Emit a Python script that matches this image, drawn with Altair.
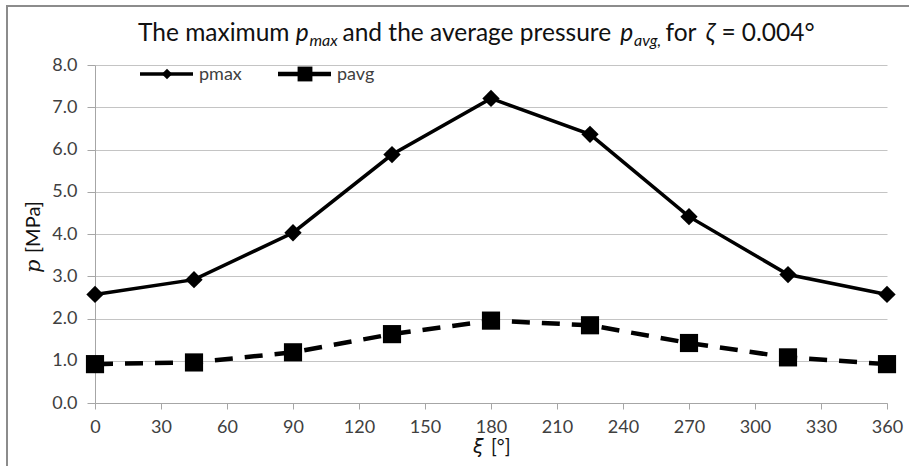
import altair as alt
import pandas as pd

# ---- data ----
xi_deg = [0, 45, 90, 135, 180, 225, 270, 315, 360]
p_max = [2.57, 2.92, 4.03, 5.88, 7.21, 6.36, 4.41, 3.04, 2.57]
p_avg = [0.92, 0.96, 1.20, 1.63, 1.95, 1.84, 1.42, 1.08, 0.92]
series_names = ["pmax", "pavg"]
x_tick_values = list(range(0, 361, 30))
y_tick_values = [0, 1, 2, 3, 4, 5, 6, 7, 8]

W, H = 792, 338
FONT = "Lato, DejaVu Sans, sans-serif"
GRID = "#c4c4c4"
AXC = "#a6a6a6"
LAB = "#404040"

df = pd.DataFrame({"xi": xi_deg, "pmax": p_max, "pavg": p_avg})
one = pd.DataFrame({"k": [0]})
leg = pd.DataFrame({"series": series_names})

xs = alt.Scale(domain=[0, 360], nice=False, zero=False)
ys = alt.Scale(domain=[0, 8], nice=False)
xax = alt.Axis(values=x_tick_values, title=None, grid=False, tickSize=6,
               labelPadding=9, domainColor=AXC, tickColor=AXC, labelColor=LAB,
               labelFont=FONT, labelFontSize=18, labelFlush=False)
yax = alt.Axis(values=y_tick_values, format=".1f", title=None, grid=True,
               gridColor=GRID, tickSize=8, labelPadding=10, domainColor=AXC,
               tickColor=AXC, labelColor=LAB, labelFont=FONT, labelFontSize=18)

base = alt.Chart(df)
X = alt.X("xi:Q", scale=xs, axis=xax)

line_max = base.mark_line(color="black", strokeWidth=3.5).encode(
    x=X, y=alt.Y("pmax:Q", scale=ys, axis=yax))
pts_max = base.mark_point(shape="diamond", filled=True, size=300, color="black",
                          opacity=1).encode(x=X, y=alt.Y("pmax:Q", scale=ys))
line_avg = base.mark_line(color="black", strokeWidth=4.5, strokeDash=[18, 12]).encode(
    x=X, y=alt.Y("pavg:Q", scale=ys))
pts_avg = base.mark_point(shape="square", filled=True, size=330, color="black",
                          opacity=1).encode(x=X, y=alt.Y("pavg:Q", scale=ys))

# ---- legend (top-left, inside plot) ----
LY = 9
legend_layers = []
for name, lx, shape, sz, sw in [("pmax", 45, "diamond", 110, 3.5),
                                 ("pavg", 183, "square", 220, 4.5)]:
    d = alt.Chart(leg).transform_filter(alt.datum.series == name)
    legend_layers.append(d.mark_rule(color="black", strokeWidth=sw).encode(
        x=alt.value(lx), x2=alt.value(lx + 53), y=alt.value(LY)))
    legend_layers.append(d.mark_point(shape=shape, filled=True, size=sz, color="black",
                                      opacity=1).encode(x=alt.value(lx + 27), y=alt.value(LY)))
    legend_layers.append(d.mark_text(align="left", baseline="middle", font=FONT,
                                     fontSize=18, color=LAB).encode(
        x=alt.value(lx + 59), y=alt.value(LY + 1), text="series:N"))

# ---- title made of styled pieces ----
LATO = {" ": 0.25, "T": 0.57, "h": 0.558, "e": 0.51, "m": 0.84, "a": 0.49, "x": 0.49,
        "i": 0.24, "u": 0.558, "n": 0.558, "d": 0.558, "t": 0.345, "v": 0.5, "r": 0.37,
        "g": 0.5, "p": 0.56, "s": 0.41, "f": 0.33, "o": 0.56, "=": 0.58, "0": 0.58,
        ".": 0.23, "4": 0.58, "°": 0.4, ",": 0.23, "ζ": 0.52}

def tw(s, size):
    return sum(LATO.get(c, 0.55) for c in s) * size

TS = 24.5
SUB = 16
# (text, style, size, baseline shift, extra x shift before piece)
pieces = [("The maximum ", "normal", TS, 0, 0), ("p", "italic", TS, 0, 0),
          (" max", "italic", SUB, 5, 0), (" and the average pressure ", "normal", TS, 0, 0),
          ("p", "italic", TS, 0, 0), (" avg,", "italic", SUB, 5, 0),
          (" for ", "normal", TS, 0, 0), ("ζ", "italic", TS, 0, -3),
          (" = 0.004°", "normal", TS, 0, 3)]
title_layers = []
cx = 43
TB = -24
for txt, style, size, dy, shift in pieces:
    cx += shift
    title_layers.append(alt.Chart(one).mark_text(
        align="left", baseline="alphabetic", font=FONT, fontSize=size, fontStyle=style,
        color="#111111").encode(x=alt.value(cx), y=alt.value(TB + dy), text=alt.value(txt)))
    cx += tw(txt, size)

# ---- axis titles ----
ax_titles = [
    alt.Chart(one).mark_text(align="left", baseline="alphabetic", font="DejaVu Serif",
                             fontSize=21, fontStyle="italic", color="#111111", angle=270).encode(
        x=alt.value(-55), y=alt.value(208), text=alt.value("p")),
    alt.Chart(one).mark_text(align="left", baseline="alphabetic", font=FONT,
                             fontSize=20, color="#111111", angle=270).encode(
        x=alt.value(-55), y=alt.value(188), text=alt.value("[MPa]")),
    alt.Chart(one).mark_text(align="left", baseline="alphabetic", font="DejaVu Sans",
                             fontSize=19, fontStyle="italic", color="#111111").encode(
        x=alt.value(378), y=alt.value(388), text=alt.value("ξ")),
    alt.Chart(one).mark_text(align="left", baseline="alphabetic", font=FONT,
                             fontSize=19, color="#111111").encode(
        x=alt.value(396), y=alt.value(388), text=alt.value("[°]")),
]

border = alt.Chart(one).mark_rect(fill="white", fillOpacity=0, stroke="#8c8c8c",
                                  strokeWidth=2).encode(
    x=alt.value(-88), x2=alt.value(840), y=alt.value(-59), y2=alt.value(430))

chart = alt.layer(line_max, line_avg, pts_max, pts_avg, *legend_layers, *title_layers,
                  *ax_titles, border).properties(
    width=W, height=H,
    padding={"left": 95, "top": 65, "right": 22, "bottom": 63},
    autosize=alt.AutoSizeParams(type="none"),
    background="white",
).configure_view(strokeWidth=0)

chart.save("out.html", embed_options={"renderer": "svg", "actions": False})
